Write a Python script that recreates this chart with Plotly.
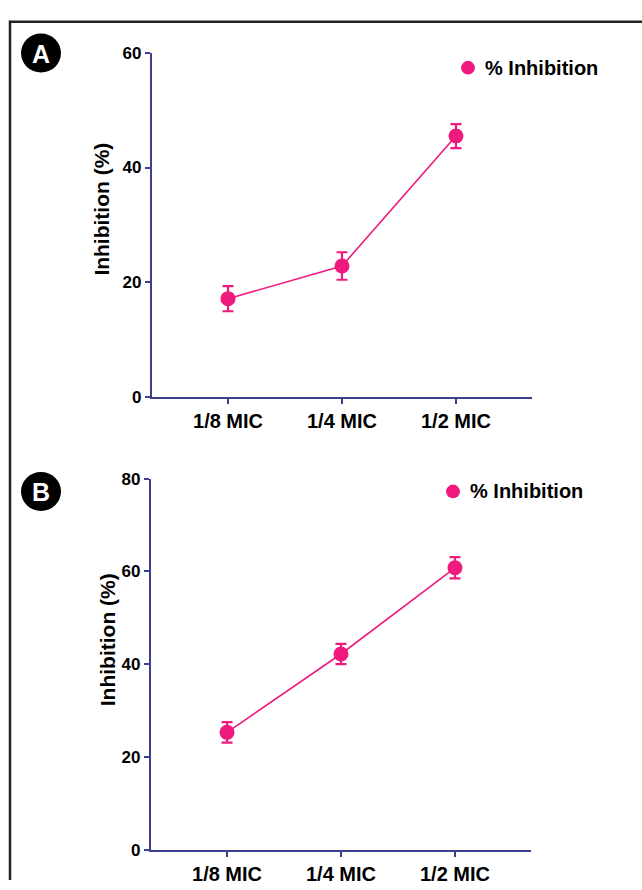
import plotly.graph_objects as go

categories = ["1/8 MIC", "1/4 MIC", "1/2 MIC"]
a_mean = [17.1, 22.8, 45.5]
a_err = [2.2, 2.4, 2.1]
b_mean = [25.3, 42.2, 60.8]
b_err = [2.2, 2.2, 2.3]
a_ticks = [0, 20, 40, 60]
b_ticks = [0, 20, 40, 60, 80]
series_name = "% Inhibition"
y_title = "Inhibition (%)"

PINK = "#EF1A7E"
AXC = "#3d3f8f"
FONT = "Liberation Sans"
W, H = 642, 890

fig = go.Figure()

for mean, err, xa, ya in [(a_mean, a_err, "x", "y"), (b_mean, b_err, "x2", "y2")]:
    fig.add_trace(go.Scatter(
        x=categories, y=mean, xaxis=xa, yaxis=ya,
        mode="lines+markers", name=series_name, showlegend=False,
        line=dict(color=PINK, width=1.6),
        marker=dict(color=PINK, size=15),
        error_y=dict(type="data", array=err, visible=True, color=PINK,
                     thickness=2.2, width=5.5),
    ))


def px_x(p):
    return p / W


def px_y(p):
    return 1 - p / H


axis_common = dict(
    showline=True, linecolor=AXC, linewidth=2.2, mirror=False,
    ticks="outside", tickcolor=AXC, ticklen=5, tickwidth=2,
    showgrid=False, zeroline=False,
)
xtickfont = dict(family=FONT, size=20, weight="bold", color="black")
ytickfont = dict(family=FONT, size=17, weight="bold", color="black")

fig.update_layout(
    width=W, height=H, margin=dict(l=0, r=0, t=0, b=0),
    paper_bgcolor="white", plot_bgcolor="white",
    font=dict(family=FONT, color="black"),
    xaxis=dict(domain=[px_x(152), px_x(532)], anchor="y", type="category",
               range=[-0.667, 2.667], tickfont=xtickfont, **axis_common),
    yaxis=dict(domain=[px_y(396), px_y(45)], anchor="x", range=[0, 60],
               tickvals=a_ticks, tickfont=ytickfont, **axis_common),
    xaxis2=dict(domain=[px_x(151), px_x(531)], anchor="y2", type="category",
                range=[-0.667, 2.667], tickfont=xtickfont, **axis_common),
    yaxis2=dict(domain=[px_y(859), px_y(480)], anchor="x2", range=[0, 80],
                tickvals=b_ticks, tickfont=ytickfont, **axis_common),
)

shapes = []
annotations = []
# outer frame: top and left edges only
shapes.append(dict(type="line", xref="paper", yref="paper",
                   x0=px_x(9), x1=1.0, y0=px_y(13), y1=px_y(13),
                   line=dict(color="#222222", width=2.5)))
shapes.append(dict(type="line", xref="paper", yref="paper",
                   x0=px_x(10), x1=px_x(10), y0=px_y(12), y1=0.0,
                   line=dict(color="#222222", width=2.5)))

for label, cx, cy in [("A", 41, 45), ("B", 41, 493)]:
    r = 20
    shapes.append(dict(type="circle", xref="paper", yref="paper",
                       x0=px_x(cx - r), x1=px_x(cx + r), y0=px_y(cy + r), y1=px_y(cy - r),
                       fillcolor="black", line=dict(color="black", width=0)))
    annotations.append(dict(text=f"<b>{label}</b>", xref="paper", yref="paper",
                            x=px_x(cx), y=px_y(cy + 1), showarrow=False,
                            xanchor="center", yanchor="middle",
                            font=dict(family=FONT, size=25, color="white")))

# legends
for mx, my in [(468, 60), (453, 493)]:
    r = 7
    shapes.append(dict(type="circle", xref="paper", yref="paper",
                       x0=px_x(mx - r), x1=px_x(mx + r), y0=px_y(my + r), y1=px_y(my - r),
                       fillcolor=PINK, line=dict(color=PINK, width=0)))
    annotations.append(dict(text=f"<b>{series_name}</b>", xref="paper", yref="paper",
                            x=px_x(mx + 15), y=px_y(my), showarrow=False,
                            xanchor="left", yanchor="middle",
                            font=dict(family=FONT, size=20, color="black")))

# y-axis titles
for tx, ty in [(102, 205), (107, 645)]:
    annotations.append(dict(text=f"<b>{y_title}</b>", xref="paper", yref="paper",
                            x=px_x(tx), y=px_y(ty), showarrow=False, textangle=-90,
                            xanchor="center", yanchor="middle",
                            font=dict(family=FONT, size=21, color="black")))

fig.update_layout(shapes=shapes, annotations=annotations)
fig.write_html("out.html")
